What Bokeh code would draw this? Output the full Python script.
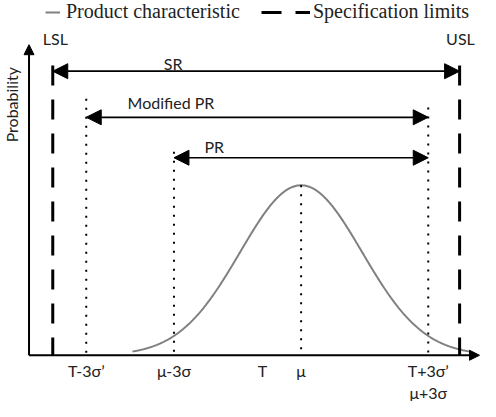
import numpy as np
from bokeh.plotting import figure
from bokeh.models import Range1d, Arrow, NormalHead, ColumnDataSource, Legend, LegendItem
from bokeh.core.properties import value
from bokeh.embed import file_html
from bokeh.resources import INLINE

# ---- data: x in units of sigma measured from mu, y relative to curve peak ----
tick_labels = ["T-3σ’", "μ-3σ", "T", "μ", "T+3σ’", "μ+3σ"]
tick_x = [-5.07, -3.0, -0.91, 0.0, 3.0, 3.0]
tick_row = [0, 0, 0, 0, 0, 1]

spec_names = ["LSL", "USL"]
spec_x = [-5.86, 3.74]
spec_top = [1.705, 1.705]
spec_label_x = [-5.80, 3.76]
spec_label_y = [1.861, 1.861]

ref_x = [-5.07, -3.0, 0.0, 3.0]
ref_top = [1.509, 1.197, 1.0, 1.457]

range_names = ["SR", "Modified PR", "PR"]
range_start = [-5.86, -5.07, -3.0]
range_end = [3.74, 3.0, 3.0]
range_y = [1.671, 1.40, 1.162]
range_label_x = [-3.02, -3.07, -2.05]
range_label_y = [1.717, 1.486, 1.231]

curve_mu = 0.0
curve_sd = 1.44
curve_half_span = 3.98

axis_origin_x = -6.42
x_axis_end = 4.21
y_axis_end = 1.827

ylabel_x = -6.84
ylabel_y = 1.474

SANS = "Lato"
SERIF = "Liberation Serif"
TXT = "#222222"

p = figure(width=480, height=401, output_backend="svg", toolbar_location=None,
           x_range=Range1d(-7.093, 4.233), y_range=Range1d(-0.272, 2.087),
           x_axis_type=None, y_axis_type=None, min_border=0)
p.grid.visible = False
p.outline_line_color = None
p.background_fill_color = "white"

# curve
xs = np.linspace(curve_mu - curve_half_span, curve_mu + curve_half_span, 400)
ys = np.exp(-0.5 * ((xs - curve_mu) / curve_sd) ** 2)
curve_r = p.line(xs, ys, line_color="#808080", line_width=2)

# reference dotted lines
p.segment(x0=ref_x, y0=ref_top, x1=ref_x, y1=[0] * len(ref_x),
          line_color="black", line_width=2, line_dash="2 7")

# spec limits
spec_r = p.segment(x0=spec_x, y0=spec_top, x1=spec_x, y1=[0] * len(spec_x),
                   line_color="black", line_width=3, line_dash="20 14")

# axes
p.add_layout(Arrow(x_start=axis_origin_x, y_start=0, x_end=axis_origin_x, y_end=y_axis_end,
                   line_width=2, line_color="black",
                   end=NormalHead(size=10, fill_color="black", line_color="black")))
p.add_layout(Arrow(x_start=axis_origin_x, y_start=0, x_end=x_axis_end, y_end=0,
                   line_width=2, line_color="black",
                   end=NormalHead(size=10, fill_color="black", line_color="black")))

# range arrows
rsrc = ColumnDataSource(dict(x0=range_start, x1=range_end, y=range_y))
p.add_layout(Arrow(source=rsrc, x_start="x0", y_start="y", x_end="x1", y_end="y",
                   line_width=1.7, line_color="black",
                   start=NormalHead(size=15, fill_color="black", line_color="black"),
                   end=NormalHead(size=15, fill_color="black", line_color="black")))

common = dict(text_font=value(SANS), text_font_size="16px", text_align="center",
              text_baseline="middle", text_color=TXT)
p.text(x=range_label_x, y=range_label_y, text=range_names, **common)
p.text(x=spec_label_x, y=spec_label_y, text=spec_names, **common)

tsrc = ColumnDataSource(dict(x=tick_x, y=[0] * len(tick_x), t=tick_labels,
                             off=[15.7 + 21.7 * r for r in tick_row]))
p.text(x="x", y="y", text="t", y_offset="off", source=tsrc, **common)

p.text(x=[ylabel_x], y=[ylabel_y], text=["Probability"], angle=np.pi / 2, **common)

leg_style = dict(padding=0, margin=0, border_line_color=None, background_fill_alpha=0,
                 label_text_font=SERIF, label_text_font_size="20px", label_text_color=TXT,
                 glyph_height=20, label_height=20, spacing=0)
leg1 = Legend(items=[LegendItem(label="Product characteristic", renderers=[curve_r])],
              location=(45, 378), glyph_width=15, label_standoff=6, **leg_style)
leg2 = Legend(items=[LegendItem(label="Specification limits", renderers=[spec_r])],
              location=(261, 378), glyph_width=49, label_standoff=3, **leg_style)
p.add_layout(leg1)
p.add_layout(leg2)

open("out.html", "w").write(file_html(p, INLINE))
